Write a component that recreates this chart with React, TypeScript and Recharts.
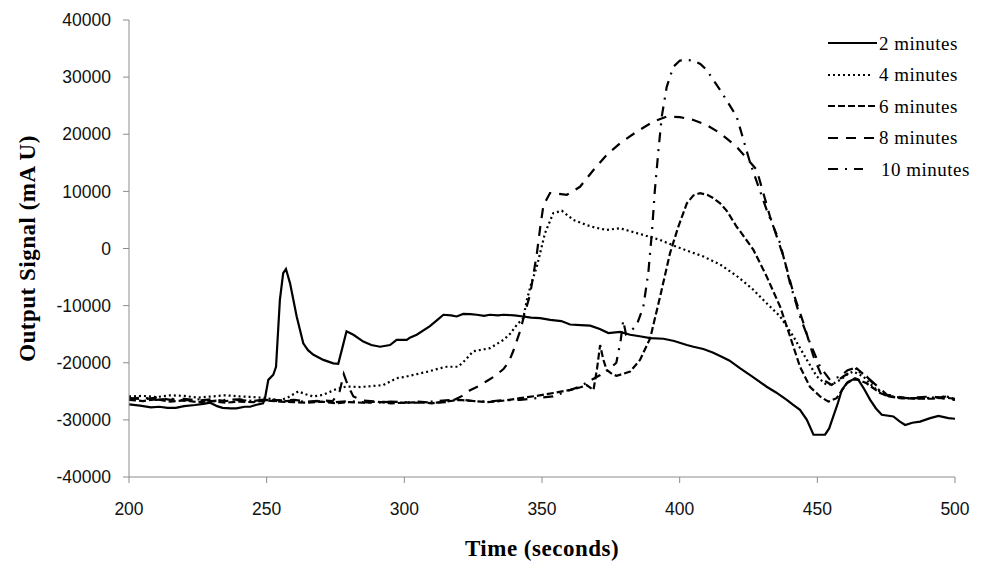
import React from 'react';
import { LineChart, Line, XAxis, YAxis, Legend, Label } from 'recharts';

// ---------- data ----------
const xTicks = [200, 250, 300, 350, 400, 450, 500];
const yTicks = [-40000, -30000, -20000, -10000, 0, 10000, 20000, 30000, 40000];
const seriesNames = ['2 minutes', '4 minutes', '6 minutes', '8 minutes', '10 minutes'];

// [time (s), signal (mAU)]
const min2: [number, number][] = [
  [200, -27300], [204, -27500], [208, -27800], [211, -27700], [214, -27900], [217, -27900], [220, -27600],
  [224, -27400], [227, -27200], [229.5, -27000], [232, -27600], [234, -27900], [237, -28000], [239, -28000],
  [242, -27700], [244, -27700], [246, -27400], [248.7, -27100], [249.4, -26200], [250.6, -23000], [252.4, -22100],
  [253.4, -20700], [254.2, -14000], [254.8, -9000], [256, -4300], [257, -3600], [258.5, -6100], [260.9, -11900],
  [263.3, -16600], [265, -17800], [267, -18600], [270.6, -19500], [274.2, -20100], [276, -20200], [277.3, -17750],
  [279, -14500], [281.5, -15100], [285.1, -16300], [288, -16900], [291.2, -17200], [294.8, -16900], [297.2, -16000],
  [300.9, -16000], [302, -15600], [304.5, -15100], [309.3, -13600], [312, -12500], [314.2, -11600], [317, -11700],
  [319, -11900], [321.4, -11450], [324, -11500], [326.3, -11600], [329, -11800], [331, -11600], [334, -11700],
  [336, -11600], [340, -11700], [343.2, -11900], [346, -12100], [349.3, -12200], [353, -12500], [357, -12700],
  [360.2, -13300], [364, -13400], [367.5, -13500], [371, -14100], [374.1, -14800], [378.4, -14600], [382, -15100],
  [386, -15400], [389.3, -15700], [394.1, -15800], [398, -16200], [402.6, -16900], [405, -17200], [408.6, -17600],
  [412, -18200], [414.7, -18800], [418, -19600], [422, -21000], [426, -22300], [431.6, -24200], [435, -25200],
  [438.9, -26500], [441, -27300], [443.7, -28250], [446.2, -30000], [448.6, -32600], [452.8, -32600], [454.3, -31500],
  [455.8, -29400], [457.5, -27000], [458.9, -24750], [461, -23400], [463.1, -22900], [464.9, -23000], [467, -24600],
  [469.2, -26500], [471.3, -28000], [473.4, -29100], [477.6, -29400], [480, -30300], [481.9, -30900], [484.5, -30500],
  [487.3, -30300], [491, -29700], [494, -29300], [497.6, -29700], [500, -29800],
];

const min4: [number, number][] = [
  [200, -25900], [205, -25800], [210, -26000], [215, -25700], [220, -25800], [225, -26100], [230, -25900],
  [235, -25700], [240.3, -25900], [245, -26000], [250, -26200], [255, -26600], [258, -26000], [261.5, -25000],
  [264, -25500], [267, -25900], [270.6, -25600], [273, -25100], [275.4, -24600], [279, -24150], [283.9, -24250],
  [288, -24100], [292.4, -23900], [297.2, -22700], [300, -22500], [304.5, -22000], [309, -21500], [313, -20950],
  [315.4, -20700], [319.6, -20700], [322, -19600], [325, -18000], [331.1, -17450], [336, -16000], [338.5, -14900],
  [340.8, -13400], [343.2, -12200], [344.5, -9000], [346, -6300], [348.1, -3200], [351.1, 2700], [354.1, 6200],
  [357.2, 6600], [361.4, 5000], [366.2, 4100], [369, 3700], [373.5, 3250], [378.3, 3550], [384.4, 2700],
  [388, 2200], [392.9, 1500], [398.9, 300], [404, -600], [408.6, -1400], [414.7, -2800], [420.7, -4800],
  [424, -6100], [426.8, -7250], [431.6, -9600], [436.5, -11900], [441.3, -15400], [446.2, -19500], [449.8, -22400],
  [453.4, -23900], [456, -23600], [458.3, -23000], [461, -22000], [463.1, -21550], [466.7, -22400], [469, -23600],
  [471.6, -24750], [476.4, -25900], [482.5, -26200], [489.7, -26200], [494, -26000], [497, -25900], [500, -26400],
];

const min6: [number, number][] = [
  [200, -26500], [205, -26700], [210, -26400], [215, -26800], [220, -26600], [225, -26900], [230, -26700],
  [235, -27000], [240, -26800], [245, -26900], [250, -26600], [255, -26800], [260, -26900], [265, -27000],
  [270, -26800], [275, -27100], [280, -26900], [285, -27000], [290, -26800], [295, -27100], [300, -27000],
  [305, -26900], [310, -27100], [315, -26800], [320, -26500], [325, -26700], [330, -26900], [335, -26700],
  [338, -26500], [342, -26200], [348, -25800], [354.1, -25300], [360.2, -24750], [364, -24300], [366.2, -23900],
  [368.7, -24750], [370, -21000], [371.1, -16900], [372.3, -19500], [373.5, -21250], [375.5, -22000], [377.1, -22300],
  [382, -21550], [385.6, -19500], [389.3, -15700], [392.9, -8400], [396.5, -800], [399.5, 3800], [402.6, 7900],
  [405, 9300], [407.4, 9700], [410, 9400], [412.3, 8800], [414.7, 7900], [417.1, 6600], [420.7, 3800],
  [422, 3000], [426.8, -250], [431.6, -4900], [436.5, -10200], [440.1, -15400], [443.7, -20700], [447.3, -24200],
  [451, -25900], [454, -26800], [457, -26200], [460.7, -23600], [463.7, -22700], [467.9, -23600], [472.8, -25300],
  [476, -25900], [480, -26200], [486, -26300], [492, -26300], [496, -26100], [500, -26300],
];

const min8: [number, number][] = [
  [200, -26200], [205, -26400], [210, -26100], [215, -26500], [220, -26300], [225, -26600], [230, -26400],
  [235, -26700], [240, -26500], [245, -26700], [250, -26400], [255, -26600], [260, -26500], [265, -26800],
  [270, -26600], [274, -26700], [276.5, -25000], [278, -22000], [279.5, -24000], [281.5, -25900], [285, -26600],
  [290, -26800], [295, -26900], [300, -27000], [305, -26800], [310, -27000], [315, -26900], [318, -26500],
  [321, -25800], [323.9, -24800], [327, -24100], [330, -23200], [333, -22300], [336, -21100], [338, -19800],
  [339.6, -17900], [342, -14500], [343.5, -11800], [345.7, -8000], [348.1, -1000], [349.3, 3500], [350.5, 7500],
  [352.9, 9700], [355.4, 9600], [359, 9400], [363.8, 10800], [368.7, 13750], [373.5, 16400], [378.3, 18400],
  [384.4, 20450], [390.4, 22200], [395.3, 23100], [400.1, 23000], [405, 22500], [409.8, 21600], [414.7, 20200],
  [420.7, 17800], [424, 16000], [428, 13750], [432.8, 5600], [437.7, -1400], [441.3, -7800], [445, -13100],
  [448.6, -18900], [452.2, -23000], [455.2, -23900], [459.4, -22400], [464.3, -21000], [469.2, -23000],
  [475.3, -25600], [482.5, -26200], [488, -26000], [492, -25900], [496, -26300], [500, -26500],
];

const min10: [number, number][] = [
  [200, -26300], [205, -26100], [210, -26500], [215, -26300], [220, -26600], [225, -26400], [230, -26700],
  [235, -26500], [240, -26400], [245, -26700], [250, -26500], [255, -26800], [260, -26600], [265, -26900],
  [270, -26700], [275, -26900], [280, -26700], [285, -26900], [290, -27000], [295, -26800], [300, -26900],
  [305, -27000], [310, -26800], [315, -26600], [320, -26400], [325, -26700], [330, -26800], [335, -26600],
  [342, -26500], [348, -26200], [354, -25900], [359, -25000], [363.8, -24150], [368, -23000], [371, -22200],
  [374, -21300], [377, -20000], [378.6, -16000], [379.5, -12600], [380.5, -15000], [382, -14600], [384.4, -13400],
  [386.8, -10200], [388.6, -4300], [389.9, 2700], [391, 10250], [392.3, 17250], [393.5, 23100], [395.3, 28300],
  [397.7, 31800], [400.1, 32900], [402.5, 33000], [405, 32900], [407.5, 32300], [409.8, 31250], [414.7, 27750],
  [420.7, 23100], [425.6, 15000], [431.6, 6750], [436.5, 900], [440.1, -6100], [443.7, -11900], [447.3, -16500],
  [451, -20700], [454.6, -23000], [458.3, -22400], [461, -21300], [463.1, -21000], [467.9, -22400], [474, -25600],
  [480, -26200], [486, -26200], [492, -26200], [497, -25900], [500, -26500],
];

// ---------- styles ----------
const seriesData = [min2, min4, min6, min8, min10];
const dashes = [undefined, '2 3', '7 3', '10 8', '10 7 2 7'];
const legendLens = [49, 45, 47, 49, 35];
const legendBoxW = [51, 51, 51, 51, 53];

const toRows = (arr: [number, number][]) => arr.map(([t, v]) => ({ t, v }));

const serif = "'Liberation Serif', 'Times New Roman', serif";
const sans = "'Liberation Sans', Arial, sans-serif";

const renderLegend = () => (
  <div style={{ fontFamily: serif, fontSize: 19, color: '#000', width: 160, lineHeight: 1 }}>
    {seriesNames.map((name, i) => (
      <div key={name} style={{ display: 'flex', alignItems: 'center', height: 31.5 }}>
        <svg width={legendBoxW[i]} height={10} style={{ display: 'block', flex: 'none' }}>
          <line x1={0} y1={5} x2={legendLens[i]} y2={5} stroke="#000" strokeWidth={2.2}
            strokeDasharray={dashes[i]} />
        </svg>
        <span style={{ letterSpacing: 0.5, whiteSpace: 'nowrap' }}>{name}</span>
      </div>
    ))}
  </div>
);

const YTitle = () => (
  <text x={34.5} y={248.5} transform="rotate(-90, 34.5, 248.5)" textAnchor="middle"
    style={{ fontFamily: serif, fontWeight: 'bold', fontSize: 23, letterSpacing: 0.5 }} fill="#000">
    Output Signal (mA U)
  </text>
);

const XTitle = () => (
  <text x={542} y={556} textAnchor="middle"
    style={{ fontFamily: serif, fontWeight: 'bold', fontSize: 23, letterSpacing: 0.5 }} fill="#000">
    Time (seconds)
  </text>
);

export default function App() {
  return (
    <div style={{ position: 'absolute', left: 0, top: 0, width: 986, height: 561, background: '#fff' }}>
      <LineChart width={986} height={561} margin={{ top: 20, right: 31, bottom: 24, left: 0 }}>
        <XAxis type="number" dataKey="t" domain={[200, 500]} ticks={xTicks} allowDataOverflow
          height={60} tickSize={6} tickMargin={20} stroke="#8c8c8c"
          tick={{ fill: '#111', fontSize: 17.5, fontFamily: sans }}>
          <Label content={XTitle} />
        </XAxis>
        <YAxis type="number" domain={[-40000, 40000]} ticks={yTicks} allowDataOverflow
          width={129} tickSize={6} tickMargin={12} stroke="#8c8c8c"
          tick={{ fill: '#111', fontSize: 17.5, fontFamily: sans }}>
          <Label content={YTitle} />
        </YAxis>
        <Legend layout="vertical" align="center" verticalAlign="middle" content={renderLegend}
          wrapperStyle={{ top: 27.5, left: 828, width: 160 }} />
        {seriesData.map((arr, i) => (
          <Line key={seriesNames[i]} data={toRows(arr)} dataKey="v" name={seriesNames[i]} type="linear"
            stroke="#000" strokeWidth={2.2} strokeDasharray={dashes[i]} dot={false} activeDot={false}
            isAnimationActive={false} />
        ))}
      </LineChart>
    </div>
  );
}
